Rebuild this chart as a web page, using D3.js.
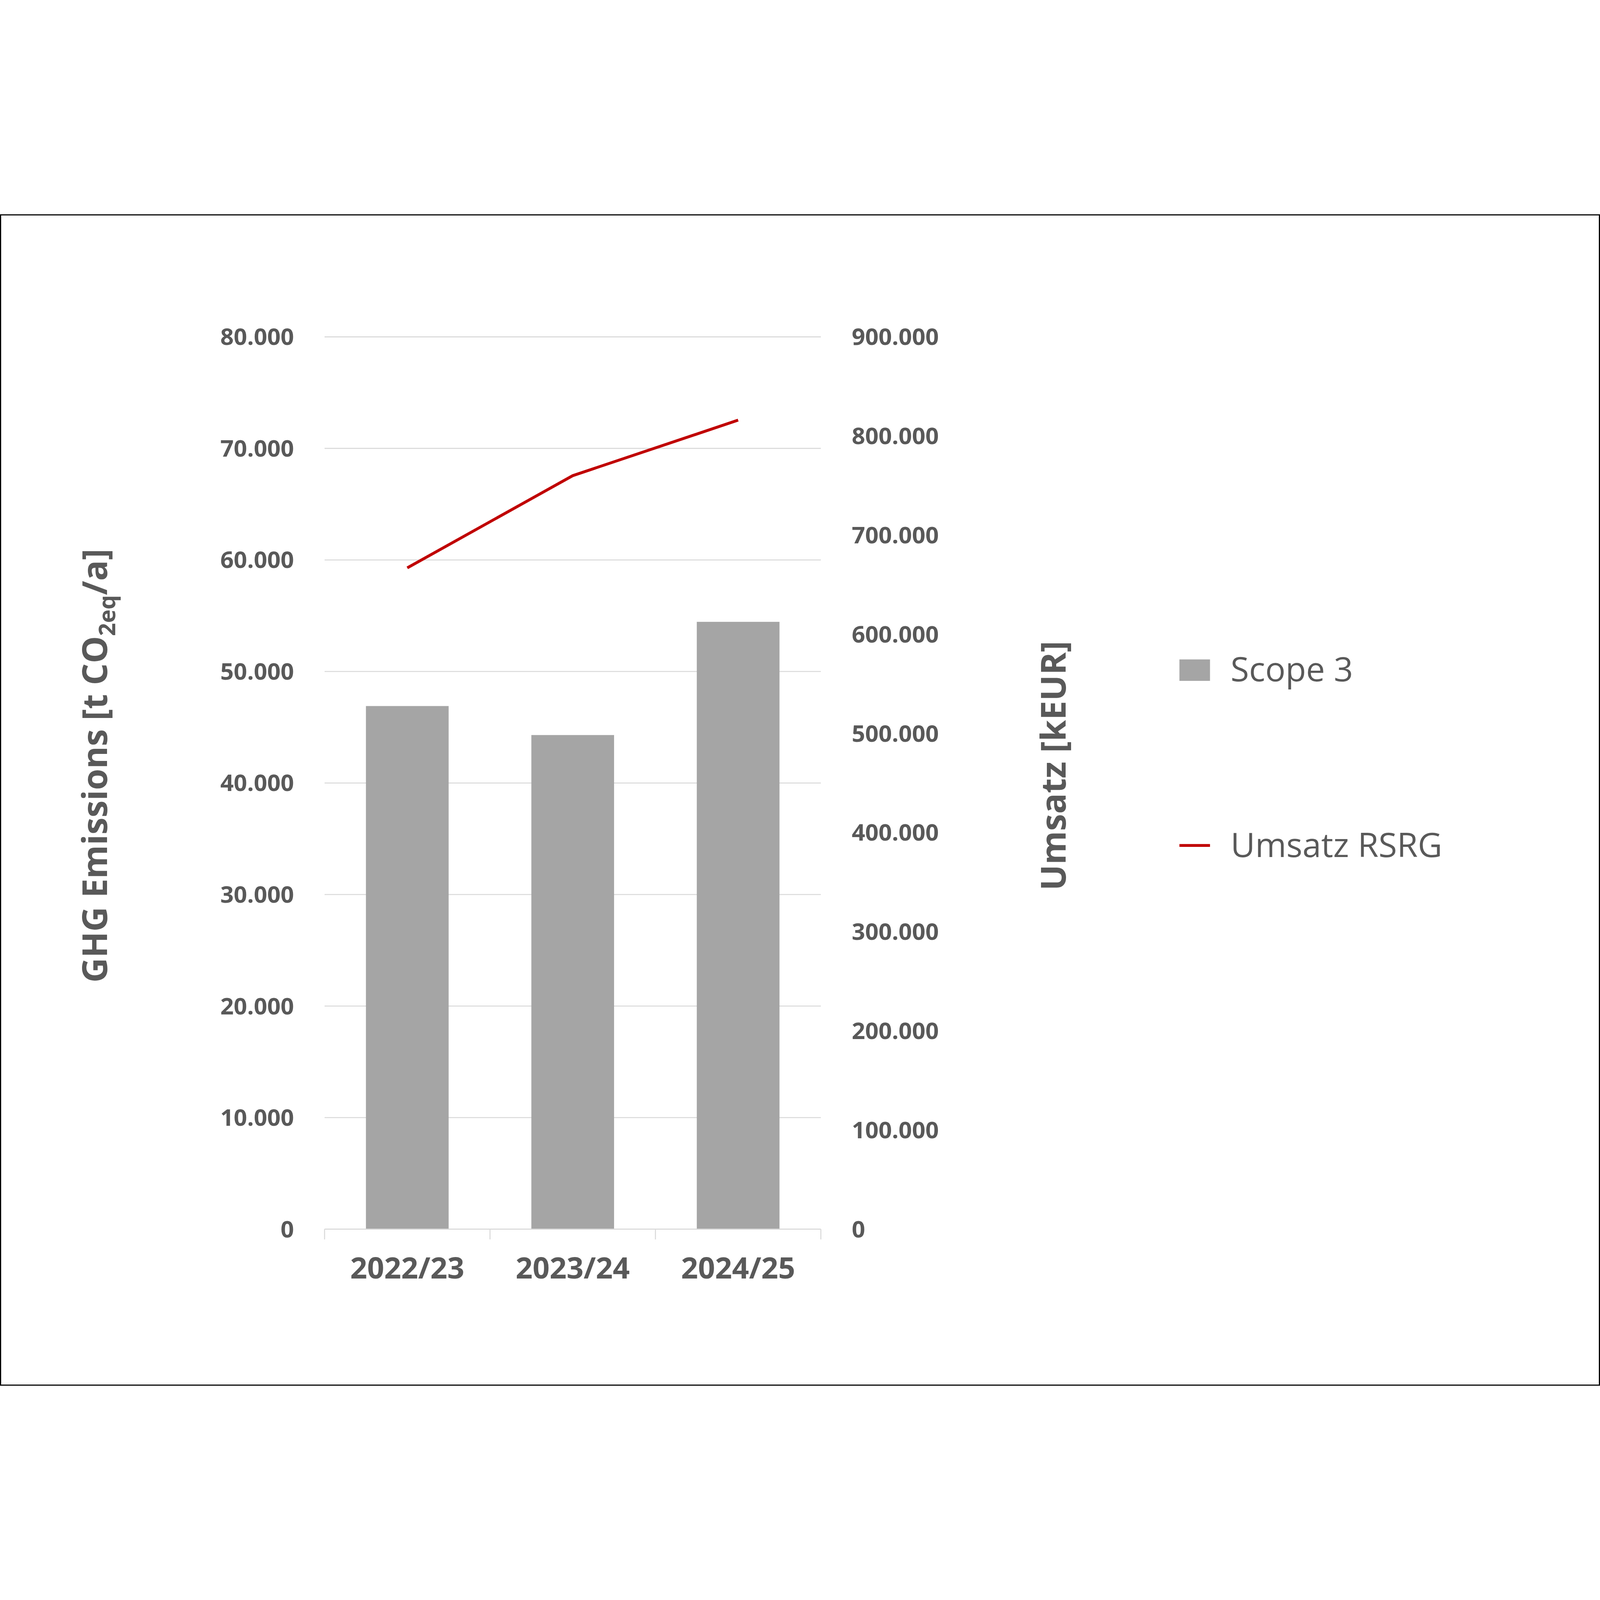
<!DOCTYPE html>
<html><head><meta charset="utf-8">
<script src="https://cdn.jsdelivr.net/npm/d3@7"></script>
<style>html,body{margin:0;padding:0;background:#fff;overflow:hidden}svg{display:block}</style></head>
<body><script>
const categories = ["2022/23","2023/24","2024/25"];
const scope3 = [46900, 44300, 54450];
const umsatz = [667000, 760000, 816000];
const leftTicks = [0,10000,20000,30000,40000,50000,60000,70000,80000];
const rightTicks = [0,100000,200000,300000,400000,500000,600000,700000,800000,900000];

const W=5600,H=4100;
const svg=d3.select("body").append("svg").attr("viewBox",`0 0 ${W} ${H}`)
 .attr("preserveAspectRatio","xMidYMid meet").style("width","100vw").style("height","100vh");
svg.append("rect").attr("x",2).attr("y",2).attr("width",W-4).attr("height",H-4).attr("fill","#fff").attr("stroke","#000").attr("stroke-width",4);
const L=1136,R=2873,T=429,B=3552;
const fmt=d=>d3.format(",")(d).replace(/,/g,".");
const x=d3.scaleBand().domain(categories).range([L,R]).paddingInner(0.5).paddingOuter(0.25);
const yL=d3.scaleLinear().domain([0,80000]).range([B,T]);
const yR=d3.scaleLinear().domain([0,900000]).range([B,T]);
const font="'Open Sans', 'Noto Sans', sans-serif";
const col="#595959";
svg.selectAll(".g").data(leftTicks.slice(1)).join("line").attr("x1",L).attr("x2",R)
 .attr("y1",d=>yL(d)).attr("y2",d=>yL(d)).attr("stroke","#d9d9d9").attr("stroke-width",3.5);
svg.selectAll(".b").data(scope3).join("rect").attr("x",(d,i)=>x(categories[i])).attr("width",x.bandwidth())
 .attr("y",d=>yL(d)).attr("height",d=>B-yL(d)).attr("fill","#a5a5a5");
svg.append("line").attr("x1",L).attr("x2",R).attr("y1",B).attr("y2",B).attr("stroke","#d9d9d9").attr("stroke-width",3.5);
const step=(R-L)/3;
[0,1,2,3].forEach(i=>svg.append("line").attr("x1",L+i*step).attr("x2",L+i*step).attr("y1",B).attr("y2",B+36).attr("stroke","#d9d9d9").attr("stroke-width",3.5));
svg.selectAll(".xl").data(categories).join("text").attr("x",d=>x(d)+x.bandwidth()/2).attr("y",3725)
 .attr("text-anchor","middle").attr("font-family",font).attr("font-weight","bold").attr("font-size",104).attr("fill",col).text(d=>d);
svg.selectAll(".yl").data(leftTicks).join("text").attr("x",1029).attr("y",d=>yL(d)).attr("dy","0.35em")
 .attr("text-anchor","end").attr("font-family",font).attr("font-weight","bold").attr("font-size",82).attr("fill",col).text(fmt);
svg.selectAll(".yr").data(rightTicks).join("text").attr("x",2981).attr("y",d=>yR(d)).attr("dy","0.35em")
 .attr("text-anchor","start").attr("font-family",font).attr("font-weight","bold").attr("font-size",82).attr("fill",col).text(fmt);
svg.append("path").datum(umsatz).attr("fill","none").attr("stroke","#c00000").attr("stroke-width",10)
 .attr("d",d3.line().x((d,i)=>x(categories[i])+x.bandwidth()/2).y(d=>yR(d)));
const lt=svg.append("text").attr("transform","translate(375,1930) rotate(-90)").attr("text-anchor","middle")
 .attr("font-family",font).attr("font-weight","bold").attr("font-size",120).attr("fill",col);
lt.append("tspan").text("GHG Emissions [t CO");
lt.append("tspan").attr("font-size",80).attr("dy",28).text("2eq");
lt.append("tspan").attr("dy",-28).text("/a]");
svg.append("text").attr("transform","translate(3730,1930) rotate(-90)").attr("text-anchor","middle")
 .attr("font-family",font).attr("font-weight","bold").attr("font-size",120).attr("fill",col).text("Umsatz [kEUR]");
svg.append("rect").attr("x",4128).attr("y",1558).attr("width",107).attr("height",75).attr("fill","#a5a5a5");
svg.append("text").attr("x",4307).attr("y",1635).attr("font-family",font).attr("font-size",118).attr("fill",col).text("Scope 3");
svg.append("line").attr("x1",4128).attr("x2",4235).attr("y1",2209).attr("y2",2209).attr("stroke","#c00000").attr("stroke-width",10);
svg.append("text").attr("x",4307).attr("y",2250).attr("font-family",font).attr("font-size",118).attr("fill",col).text("Umsatz RSRG");
</script></body></html>
